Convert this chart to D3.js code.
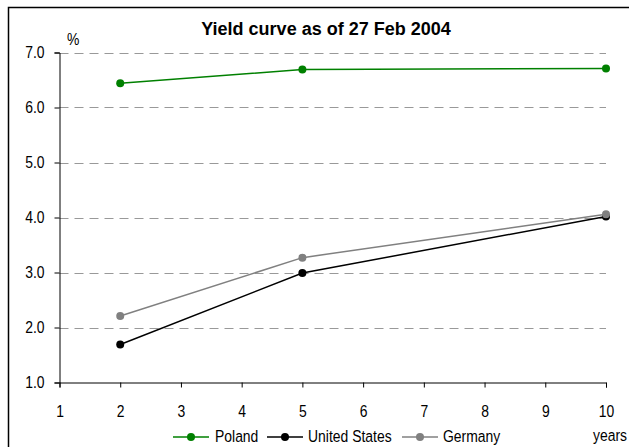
<!DOCTYPE html>
<html>
<head>
<meta charset="utf-8">
<script src="https://cdn.jsdelivr.net/npm/d3@7/dist/d3.min.js"></script>
<style>
  html, body { margin: 0; padding: 0; background: #fff; }
  svg text { font-family: "Liberation Sans", Arial, sans-serif; fill: #000; }
</style>
</head>
<body>
<svg id="chart" width="629" height="447"></svg>
<script>
// Maturities (years) and yields (%) as of 27 Feb 2004
const maturities = [2, 5, 10];
const poland = [6.44, 6.69, 6.71];
const unitedStates = [1.69, 2.99, 4.02];
const germany = [2.21, 3.27, 4.06];

const seriesNames = ["Poland", "United States", "Germany"];
const seriesColors = ["#008000", "#000000", "#808080"];
const xTicks = [1, 2, 3, 4, 5, 6, 7, 8, 9, 10];
const yTicks = [1, 2, 3, 4, 5, 6, 7];

const series = [poland, unitedStates, germany].map((vals, i) => ({
  name: seriesNames[i],
  color: seriesColors[i],
  points: maturities.map((m, j) => ({ x: m, y: vals[j] }))
}));

const svg = d3.select("#chart");
const W = 629, H = 447;
const plot = { left: 59.5, right: 606, top: 52.5, bottom: 382.5 };
const NARROW = 0.82;   // horizontal squeeze for a condensed label face
const FS = "17px";

const x = d3.scaleLinear().domain([1, 10]).range([plot.left, plot.right]);
const y = d3.scaleLinear().domain([1, 7]).range([plot.bottom, plot.top]);

// condensed text at (tx, ty)
function narrowText(parent, tx, ty, str, anchor) {
  return parent.append("text")
    .attr("transform", `translate(${tx},${ty}) scale(${NARROW},1)`)
    .attr("text-anchor", anchor || "start")
    .style("font-size", FS)
    .text(str);
}

// outer frame (left and top edges visible)
svg.append("path")
  .attr("d", `M8.5,${H + 2} V7.5 H${W + 2}`)
  .attr("fill", "none").attr("stroke", "#000").attr("stroke-width", 1.5);

// title
svg.append("text")
  .attr("x", 326).attr("y", 35)
  .attr("text-anchor", "middle")
  .style("font-weight", "bold")
  .style("font-size", "18px")
  .text("Yield curve as of 27 Feb 2004");

// dashed gridlines
svg.append("g")
  .selectAll("line")
  .data(yTicks.filter(d => d > 1))
  .join("line")
  .attr("x1", plot.left).attr("x2", plot.right)
  .attr("y1", d => Math.round(y(d)) + 0.5).attr("y2", d => Math.round(y(d)) + 0.5)
  .attr("stroke", "#999").attr("stroke-width", 1.2)
  .attr("stroke-dasharray", "9,6");

// y axis
const yAxis = d3.axisLeft(y).tickValues(yTicks).tickFormat(d3.format(".1f")).tickSize(5).tickPadding(10);
const gy = svg.append("g").attr("transform", `translate(${plot.left},0)`).call(yAxis);
gy.select(".domain").attr("stroke", "#000");
gy.selectAll("line").attr("stroke", "#000");
gy.selectAll("text")
  .style("font-size", FS).attr("fill", "#000")
  .attr("x", -15 / NARROW)
  .attr("transform", `scale(${NARROW},1)`);

// x axis
const xAxis = d3.axisBottom(x).tickValues(xTicks).tickFormat(d3.format("d")).tickSize(5).tickPadding(17);
const gx = svg.append("g").attr("transform", `translate(0,${plot.bottom})`).call(xAxis);
gx.select(".domain").attr("stroke", "#000");
gx.selectAll("line").attr("stroke", "#000");
gx.selectAll("text")
  .style("font-size", FS).attr("fill", "#000")
  .attr("transform", `scale(${NARROW},1)`);

// unit labels
narrowText(svg, 67, 45, "%");
narrowText(svg, 593, 441, "years");

// series lines with markers
const line = d3.line().x(d => x(d.x)).y(d => y(d.y));
const gs = svg.append("g");
series.forEach(s => {
  gs.append("path").datum(s.points)
    .attr("d", line).attr("fill", "none")
    .attr("stroke", s.color).attr("stroke-width", 1.5);
  gs.selectAll(null).data(s.points).join("circle")
    .attr("cx", d => x(d.x)).attr("cy", d => y(d.y)).attr("r", 4)
    .attr("fill", s.color);
});

// legend
const legendItems = [
  { x0: 173, tx: 215 },
  { x0: 267, tx: 308 },
  { x0: 402, tx: 443 }
];
const lg = svg.append("g");
series.forEach((s, i) => {
  const it = legendItems[i];
  lg.append("line").attr("x1", it.x0).attr("x2", it.x0 + 36)
    .attr("y1", 437).attr("y2", 437)
    .attr("stroke", s.color).attr("stroke-width", 1.5);
  lg.append("circle").attr("cx", it.x0 + 18).attr("cy", 437).attr("r", 4).attr("fill", s.color);
  narrowText(lg, it.tx, 442, s.name);
});
</script>
</body>
</html>
